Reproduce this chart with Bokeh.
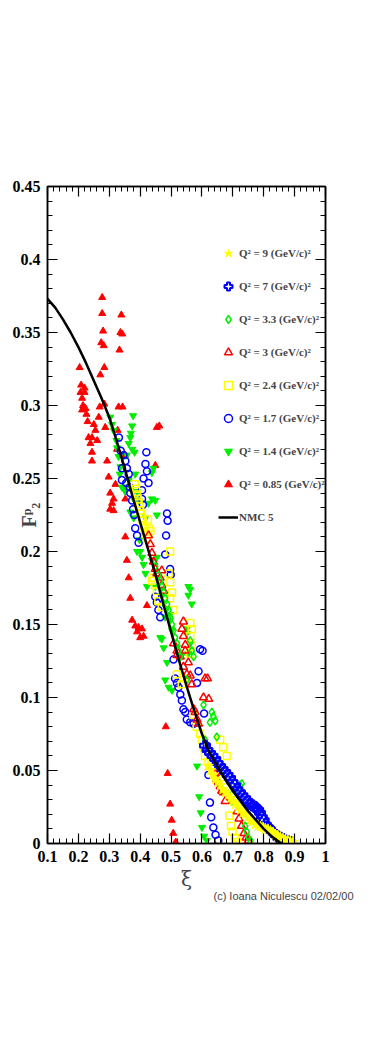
from bokeh.plotting import figure
from bokeh.models import Range1d, FixedTicker, LinearAxis, Legend, LegendItem, Title
from bokeh.embed import file_html
from bokeh.resources import INLINE

# ---------------- data ----------------
x_ticks = [0.1, 0.2, 0.3, 0.4, 0.5, 0.6, 0.7, 0.8, 0.9, 1.0]
x_tick_labels = ["0.1", "0.2", "0.3", "0.4", "0.5", "0.6", "0.7", "0.8", "0.9", "1"]
y_ticks = [0.0, 0.05, 0.1, 0.15, 0.2, 0.25, 0.3, 0.35, 0.4, 0.45]
y_tick_labels = ["0", "0.05", "0.1", "0.15", "0.2", "0.25", "0.3", "0.35", "0.4", "0.45"]

# Q^2 = 0.85 (GeV/c)^2  - red filled triangles
xi_085 = [0.277, 0.277, 0.339, 0.280, 0.336, 0.342, 0.274, 0.282, 0.333, 0.284,
          0.204, 0.271, 0.209, 0.220, 0.207, 0.220, 0.212, 0.215, 0.223, 0.212,
          0.226, 0.269, 0.284, 0.266, 0.330, 0.343, 0.230, 0.250, 0.287, 0.327,
          0.255, 0.233, 0.261, 0.244, 0.239, 0.244, 0.244, 0.293, 0.352, 0.325,
          0.454, 0.462, 0.449, 0.298, 0.320, 0.303, 0.314, 0.309, 0.314, 0.352,
          0.303, 0.352, 0.357, 0.363, 0.368, 0.422, 0.374, 0.384, 0.395, 0.406,
          0.390, 0.411, 0.400, 0.483, 0.489, 0.497, 0.502, 0.507, 0.515]
f2_085 = [0.374, 0.363, 0.362, 0.351, 0.350, 0.349, 0.343, 0.341, 0.338, 0.326,
          0.326, 0.321, 0.314, 0.312, 0.309, 0.309, 0.305, 0.300, 0.298, 0.297,
          0.294, 0.299, 0.301, 0.292, 0.299, 0.299, 0.289, 0.287, 0.285, 0.283,
          0.283, 0.278, 0.276, 0.278, 0.274, 0.268, 0.262, 0.262, 0.266, 0.270,
          0.285, 0.286, 0.259, 0.251, 0.246, 0.240, 0.236, 0.233, 0.228, 0.236,
          0.229, 0.210, 0.194, 0.182, 0.168, 0.163, 0.153, 0.149, 0.148, 0.147,
          0.145, 0.142, 0.141, 0.080, 0.048, 0.027, 0.016, 0.007, 0.001]

# Q^2 = 1.4 - green filled inverted triangles
xi_14 = [0.303, 0.309, 0.377, 0.374, 0.314, 0.370, 0.368, 0.323, 0.363, 0.325,
         0.374, 0.382, 0.330, 0.357, 0.336, 0.334, 0.384, 0.346, 0.355, 0.341,
         0.363, 0.352, 0.390, 0.379, 0.395, 0.438, 0.449, 0.438, 0.443, 0.454,
         0.379, 0.368, 0.417, 0.427, 0.398, 0.390, 0.400, 0.406, 0.411, 0.417,
         0.422, 0.454, 0.438, 0.449, 0.470, 0.476, 0.487, 0.497, 0.481, 0.497,
         0.503, 0.556, 0.556, 0.562, 0.567, 0.551, 0.470, 0.465, 0.476, 0.519,
         0.535, 0.551, 0.562, 0.556, 0.487, 0.481, 0.492, 0.503, 0.584, 0.591,
         0.596, 0.600, 0.607, 0.616]
f2_14 = [0.292, 0.287, 0.293, 0.286, 0.283, 0.281, 0.278, 0.276, 0.274, 0.271,
         0.270, 0.268, 0.265, 0.266, 0.258, 0.253, 0.253, 0.244, 0.244, 0.244,
         0.249, 0.241, 0.241, 0.236, 0.235, 0.236, 0.235, 0.254, 0.257, 0.225,
         0.223, 0.227, 0.223, 0.233, 0.208, 0.200, 0.200, 0.196, 0.191, 0.185,
         0.176, 0.196, 0.194, 0.176, 0.170, 0.164, 0.161, 0.157, 0.155, 0.153,
         0.146, 0.176, 0.170, 0.174, 0.164, 0.147, 0.140, 0.141, 0.134, 0.134,
         0.129, 0.144, 0.137, 0.130, 0.124, 0.112, 0.107, 0.105, 0.053, 0.032,
         0.021, 0.011, 0.005, 0.002]

# Q^2 = 1.7 - blue open circles
xi_17 = [0.331, 0.337, 0.346, 0.352, 0.357, 0.341, 0.363, 0.341, 0.355, 0.366,
         0.368, 0.374, 0.377, 0.381, 0.384, 0.390, 0.395, 0.420, 0.417, 0.422,
         0.411, 0.427, 0.406, 0.406, 0.409, 0.487, 0.489, 0.484, 0.481, 0.497,
         0.499, 0.449, 0.454, 0.459, 0.465, 0.594, 0.602, 0.508, 0.513, 0.519,
         0.524, 0.530, 0.535, 0.540, 0.546, 0.551, 0.562, 0.573, 0.589, 0.584,
         0.607, 0.616, 0.621, 0.626, 0.630, 0.637, 0.644, 0.653]
f2_17 = [0.278, 0.269, 0.266, 0.262, 0.257, 0.257, 0.253, 0.249, 0.247, 0.244,
         0.240, 0.235, 0.229, 0.225, 0.216, 0.211, 0.206, 0.268, 0.260, 0.255,
         0.250, 0.247, 0.242, 0.236, 0.232, 0.226, 0.221, 0.211, 0.198, 0.188,
         0.184, 0.169, 0.165, 0.160, 0.155, 0.133, 0.132, 0.126, 0.113, 0.110,
         0.107, 0.102, 0.098, 0.092, 0.090, 0.085, 0.083, 0.082, 0.118, 0.110,
         0.089, 0.067, 0.047, 0.028, 0.018, 0.011, 0.006, 0.002]

# Q^2 = 2.4 - yellow open squares
xi_24 = [0.383, 0.387, 0.390, 0.392, 0.395, 0.398, 0.400, 0.403, 0.406, 0.408,
         0.411, 0.414, 0.417, 0.419, 0.422, 0.425, 0.427, 0.433, 0.438, 0.443,
         0.449, 0.454, 0.459, 0.470, 0.497, 0.492, 0.497, 0.503, 0.497, 0.508,
         0.562, 0.567, 0.562, 0.567, 0.562, 0.519, 0.540, 0.535, 0.572, 0.583,
         0.594, 0.600, 0.605, 0.610, 0.621, 0.632, 0.648, 0.659, 0.669, 0.680,
         0.689, 0.694, 0.699, 0.707, 0.715]
f2_24 = [0.246, 0.243, 0.239, 0.236, 0.233, 0.231, 0.228, 0.226, 0.223, 0.221,
         0.218, 0.216, 0.214, 0.212, 0.209, 0.222, 0.216, 0.214, 0.180, 0.182,
         0.177, 0.173, 0.166, 0.162, 0.200, 0.185, 0.179, 0.172, 0.168, 0.160,
         0.151, 0.147, 0.142, 0.136, 0.130, 0.116, 0.113, 0.109, 0.088, 0.080,
         0.075, 0.071, 0.066, 0.060, 0.056, 0.052, 0.049, 0.071, 0.066, 0.060,
         0.019, 0.012, 0.008, 0.004, 0.001]

# Q^2 = 3 - red open triangles
xi_3 = [0.427, 0.433, 0.438, 0.443, 0.449, 0.454, 0.465, 0.470, 0.476, 0.470,
        0.519, 0.508, 0.519, 0.530, 0.540, 0.551, 0.562, 0.567, 0.540, 0.535,
        0.540, 0.546, 0.546, 0.556, 0.610, 0.618, 0.605, 0.622, 0.573, 0.578,
        0.584, 0.589, 0.643, 0.648, 0.653, 0.659, 0.664, 0.669, 0.675, 0.714,
        0.720, 0.728, 0.736, 0.743, 0.750]
f2_3 = [0.211, 0.205, 0.199, 0.193, 0.188, 0.185, 0.182, 0.177, 0.173, 0.187,
        0.129, 0.137, 0.132, 0.128, 0.121, 0.116, 0.115, 0.109, 0.152, 0.147,
        0.142, 0.136, 0.132, 0.124, 0.113, 0.113, 0.100, 0.099, 0.092, 0.090,
        0.085, 0.082, 0.048, 0.044, 0.042, 0.039, 0.036, 0.035, 0.029, 0.022,
        0.017, 0.012, 0.007, 0.004, 0.002]

# Q^2 = 3.3 - green open diamonds
xi_33 = [0.449, 0.459, 0.465, 0.470, 0.476, 0.481, 0.487, 0.492, 0.497, 0.503,
         0.508, 0.513, 0.519, 0.524, 0.530, 0.562, 0.567, 0.573, 0.551, 0.605,
         0.632, 0.637, 0.643, 0.626, 0.648, 0.610, 0.686, 0.697, 0.718, 0.723,
         0.729, 0.740, 0.745, 0.750, 0.757]
f2_33 = [0.190, 0.184, 0.180, 0.176, 0.172, 0.168, 0.164, 0.160, 0.155, 0.150,
         0.146, 0.141, 0.137, 0.132, 0.128, 0.139, 0.132, 0.128, 0.112, 0.095,
         0.090, 0.087, 0.084, 0.083, 0.073, 0.071, 0.034, 0.029, 0.037, 0.040,
         0.041, 0.012, 0.008, 0.004, 0.002]

# Q^2 = 7 - blue open crosses
xi_7 = [0.610, 0.618, 0.626, 0.634, 0.643, 0.651, 0.659, 0.667, 0.675, 0.683,
        0.691, 0.699, 0.707, 0.715, 0.723, 0.731, 0.740, 0.748, 0.756, 0.764,
        0.772, 0.777, 0.782, 0.788, 0.794, 0.800, 0.807, 0.814, 0.820, 0.828,
        0.836, 0.844, 0.853, 0.861, 0.869, 0.877, 0.885]
f2_7 = [0.067, 0.064, 0.062, 0.060, 0.058, 0.055, 0.053, 0.051, 0.049, 0.047,
        0.045, 0.042, 0.040, 0.037, 0.035, 0.033, 0.031, 0.029, 0.027, 0.026,
        0.025, 0.024, 0.023, 0.021, 0.018, 0.016, 0.013, 0.011, 0.0096, 0.008,
        0.006, 0.005, 0.004, 0.003, 0.002, 0.0015, 0.001]

# Q^2 = 9 - yellow stars
xi_9 = [0.620, 0.628, 0.636, 0.644, 0.652, 0.660, 0.668, 0.676, 0.685, 0.693,
        0.701, 0.709, 0.717, 0.725, 0.733, 0.741, 0.749, 0.757, 0.765, 0.773,
        0.782, 0.790, 0.798, 0.806, 0.814, 0.822, 0.830, 0.838, 0.846, 0.854,
        0.862, 0.870, 0.878, 0.886, 0.895]
f2_9 = [0.053, 0.050, 0.047, 0.044, 0.042, 0.040, 0.037, 0.035, 0.033, 0.031,
        0.029, 0.027, 0.025, 0.023, 0.021, 0.020, 0.018, 0.016, 0.015, 0.013,
        0.012, 0.0115, 0.011, 0.010, 0.0096, 0.0085, 0.0075, 0.006, 0.005, 0.0042,
        0.0034, 0.0027, 0.002, 0.0014, 0.001]

# NMC 5 curve
xi_nmc = [0.100, 0.125, 0.150, 0.175, 0.200, 0.225, 0.250, 0.275, 0.300, 0.325,
          0.350, 0.375, 0.400, 0.425, 0.450, 0.475, 0.500, 0.525, 0.550, 0.575,
          0.600, 0.625, 0.650, 0.675, 0.700, 0.725, 0.750, 0.775, 0.800, 0.825,
          0.850, 0.860]
f2_nmc = [0.373, 0.367, 0.359, 0.350, 0.340, 0.329, 0.317, 0.305, 0.292, 0.275,
          0.257, 0.238, 0.220, 0.202, 0.184, 0.164, 0.145, 0.126, 0.108, 0.091,
          0.075, 0.062, 0.053, 0.044, 0.036, 0.029, 0.022, 0.016, 0.010, 0.005,
          0.001, 0.0]

legend_labels = ["Q\u00b2 = 9 (GeV/c)\u00b2", "Q\u00b2 = 7 (GeV/c)\u00b2",
                 "Q\u00b2 = 3.3 (GeV/c)\u00b2", "Q\u00b2 = 3 (GeV/c)\u00b2",
                 "Q\u00b2 = 2.4 (GeV/c)\u00b2", "Q\u00b2 = 1.7 (GeV/c)\u00b2",
                 "Q\u00b2 = 1.4 (GeV/c)\u00b2", "Q\u00b2 = 0.85 (GeV/c)\u00b2",
                 "NMC 5"]

RED, GREEN, BLUE, YELLOW = "#ff0000", "#00ee00", "#0000ff", "#ffff00"
SERIF = "Liberation Serif"

# ---------------- figure ----------------
p = figure(width=368, height=1008, output_backend="svg", toolbar_location=None,
           x_range=Range1d(0.1, 1.0), y_range=Range1d(0.0, 0.45),
           min_border_left=47, min_border_right=43, min_border_top=186,
           min_border_bottom=165, x_axis_label="\u03be",
           y_axis_label="F\u1d56\u2082")
p.grid.visible = False
p.outline_line_color = "black"
p.outline_line_width = 1.5
p.background_fill_color = "white"
p.border_fill_color = "white"

x_minor = [round(0.1 + 0.02 * i, 3) for i in range(46)]
y_minor = [round(0.01 * i, 3) for i in range(46)]

def style_axis(ax, ticks, minor, labels):
    ax.ticker = FixedTicker(ticks=ticks, minor_ticks=minor)
    ax.major_tick_in = 10
    ax.major_tick_out = 0
    ax.minor_tick_in = 5
    ax.minor_tick_out = 0
    ax.axis_line_width = 1.5
    ax.major_tick_line_width = 1.2
    ax.minor_tick_line_width = 1
    if labels is None:
        ax.major_label_text_font_size = "0px"
        ax.major_label_text_alpha = 0
    else:
        ax.major_label_overrides = dict(zip(ticks, labels))
        ax.major_label_text_font = SERIF
        ax.major_label_text_font_style = "bold"
        ax.major_label_text_font_size = "16px"
        ax.major_label_text_color = "black"
        ax.major_label_standoff = 7

style_axis(p.xaxis[0], x_ticks, x_minor, x_tick_labels)
style_axis(p.yaxis[0], y_ticks, y_minor, y_tick_labels)
p.xaxis[0].axis_label_text_font = "DejaVu Serif"
p.xaxis[0].axis_label_text_font_style = "normal"
p.xaxis[0].axis_label_text_font_size = "20px"
p.xaxis[0].axis_label_standoff = 2
p.yaxis[0].axis_label_text_font = SERIF
p.yaxis[0].axis_label_text_font_style = "bold"
p.yaxis[0].axis_label_text_font_size = "20px"
p.yaxis[0].axis_label_standoff = -30

top_ax = LinearAxis()
style_axis(top_ax, x_ticks, x_minor, None)
p.add_layout(top_ax, "above")
right_ax = LinearAxis()
style_axis(right_ax, y_ticks, y_minor, None)
p.add_layout(right_ax, "right")

# ---------------- data markers ----------------
r085 = p.scatter(xi_085, f2_085, marker="triangle", size=7, fill_color=RED, line_color=RED)
r14 = p.scatter(xi_14, f2_14, marker="inverted_triangle", size=7, fill_color=GREEN, line_color=GREEN)
r17 = p.scatter(xi_17, f2_17, marker="circle", size=7, fill_color=None, line_color=BLUE, line_width=1.5)
r24 = p.scatter(xi_24, f2_24, marker="square", size=7, fill_color=None, line_color=YELLOW, line_width=1.5)
r3 = p.scatter(xi_3, f2_3, marker="triangle", size=8, fill_color=None, line_color=RED, line_width=1.5)
r33 = p.scatter(xi_33, f2_33, marker="diamond", size=8, fill_color=None, line_color=GREEN, line_width=1.5)
r7 = p.scatter(xi_7, f2_7, marker="plus", size=10, fill_color=None, line_color=BLUE, line_width=2)
r9 = p.scatter(xi_9, f2_9, marker="star", size=11, fill_color=YELLOW, line_color=YELLOW)
rn = p.line(xi_nmc, f2_nmc, line_color="black", line_width=2.5)

renderers = [r9, r7, r33, r3, r24, r17, r14, r085, rn]
legend = Legend(items=[LegendItem(label=lab, renderers=[r]) for lab, r in zip(legend_labels, renderers)],
                location=(171, 316), orientation="vertical")
legend.background_fill_alpha = 0
legend.border_line_alpha = 0
legend.padding = 0
legend.margin = 0
legend.spacing = 13
legend.label_height = 20
legend.glyph_height = 20
legend.glyph_width = 20
legend.label_standoff = 1
legend.label_text_font = SERIF
legend.label_text_font_style = "bold"
legend.label_text_font_size = "11px"
p.add_layout(legend)

# ---------------- credit line ----------------
credit = Title(text="(c) Ioana Niculescu 02/02/00", align="right",
               text_font="'Liberation Sans Narrow', 'Liberation Sans', sans-serif",
               text_font_size="11px", text_font_style="normal", offset=-28, standoff=-16)
p.add_layout(credit, "below")

open("out.html", "w").write(file_html(p, INLINE))
